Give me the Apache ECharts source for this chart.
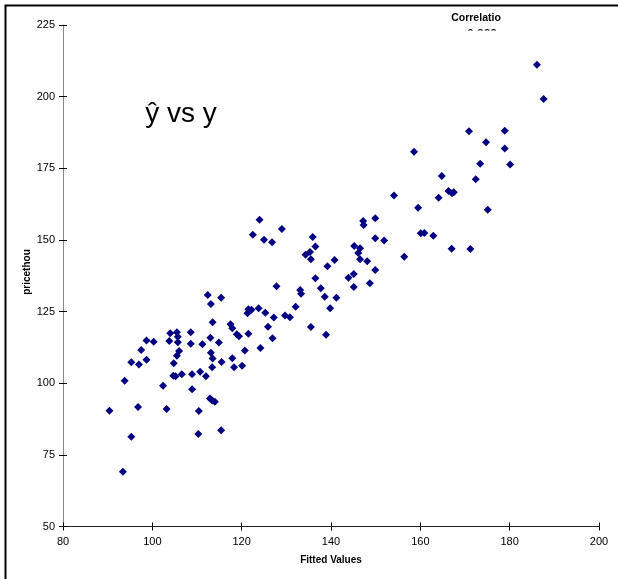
<!DOCTYPE html>
<html>
<head>
<meta charset="utf-8">
<script src="https://cdn.jsdelivr.net/npm/echarts@6/dist/echarts.min.js"></script>
<style>
  html, body { margin: 0; padding: 0; background: #fff; }
  #chart { width: 618px; height: 579px; }
</style>
</head>
<body>
<div id="chart"></div>
<script>
// Fitted values (x) against observed price in thousands (y)
const fittedValues = [
  112.4, 115.4, 113.1, 113.5, 117.5, 117.9, 118.9, 104.0, 105.5, 105.7,
  108.6, 103.8, 105.7, 108.6, 111.2, 113.0, 114.9, 98.7, 100.3, 97.5,
  106.0, 105.5, 113.1, 113.5, 117.9, 115.5, 118.3, 113.4, 95.3, 97.0,
  98.7, 104.8, 104.7, 105.2, 106.6, 108.9, 110.7, 112.0, 93.8, 102.4,
  108.9, 112.9, 113.4, 114.0, 90.4, 96.8, 103.2, 110.4, 95.3, 110.3,
  115.4, 93.4, 124.0, 122.5, 125.0, 126.8, 129.0, 135.9, 136.5, 134.3,
  135.3, 135.5, 139.2, 140.8, 136.5, 137.7, 138.6, 141.2, 139.8, 135.5,
  138.9, 127.8, 133.1, 133.3, 132.1, 129.7, 130.8, 127.2, 125.3, 123.8,
  122.2, 121.5, 121.3, 125.9, 126.9, 124.2, 121.5, 120.7, 120.1, 119.4,
  147.2, 147.3, 149.9, 149.9, 151.9, 145.2, 146.5, 146.1, 146.5, 148.1,
  149.9, 143.9, 145.1, 145.1, 148.7, 186.1, 187.6, 170.9, 178.9, 174.7,
  178.9, 158.6, 173.4, 180.1, 164.8, 172.4, 154.1, 159.5, 164.1, 166.3,
  167.1, 167.5, 175.1, 160.1, 160.9, 162.9, 156.4, 167.0, 171.2
];
const priceThou = [
  130.8, 129.8, 127.6, 121.3, 120.6, 119.2, 117.1, 117.4, 117.8, 116.2,
  117.8, 114.7, 114.3, 113.8, 113.6, 115.9, 114.2, 114.9, 114.5, 111.6,
  111.2, 109.6, 110.6, 108.6, 108.7, 107.4, 105.6, 105.6, 107.3, 106.5,
  108.2, 107.0, 102.6, 102.4, 103.1, 103.1, 104.0, 102.4, 100.9, 99.1,
  97.9, 94.7, 94.0, 93.5, 90.4, 91.7, 91.0, 90.3, 81.3, 82.3,
  83.6, 69.1, 157.0, 151.8, 150.1, 149.2, 153.8, 151.0, 147.7, 144.8,
  145.8, 143.3, 140.8, 143.0, 136.6, 133.1, 130.2, 129.8, 126.2, 119.6,
  116.9, 133.8, 132.5, 131.2, 126.7, 123.6, 123.0, 122.9, 124.6, 126.2,
  125.6, 125.8, 124.4, 119.7, 115.7, 112.3, 117.3, 111.4, 106.1, 116.4,
  156.6, 155.2, 157.6, 150.6, 149.8, 147.9, 147.1, 145.4, 143.3, 142.6,
  139.5, 136.8, 138.1, 133.6, 134.9, 211.1, 199.2, 187.9, 188.1, 184.1,
  181.9, 180.8, 176.6, 176.3, 172.3, 171.2, 165.5, 161.2, 164.7, 167.1,
  166.3, 166.6, 160.5, 152.3, 152.4, 151.5, 144.1, 146.9, 146.8
];
const xTicks = { min: 80, max: 200, step: 20 };
const yTicks = { min: 50, max: 225, step: 25 };

const points = fittedValues.map((x, i) => [x, priceThou[i]]);

const FONT = '"Liberation Sans", Arial, sans-serif';
const chart = echarts.init(document.getElementById('chart'), null, { renderer: 'canvas' });

const tickLabel = { fontFamily: FONT, fontSize: 11, color: '#000' };

const baseX = {
  type: 'value', min: xTicks.min, max: xTicks.max, interval: xTicks.step,
  splitLine: { show: false }
};
const baseY = {
  type: 'value', min: yTicks.min, max: yTicks.max, interval: yTicks.step,
  splitLine: { show: false }
};

chart.setOption({
  animation: false,
  backgroundColor: '#fff',
  grid: { left: 63, right: 19, top: 25, bottom: 52.5, containLabel: false },
  xAxis: [
    Object.assign({}, baseX, {
      axisLine: { show: true, lineStyle: { color: '#222', width: 1 } },
      axisTick: { show: true, inside: false, length: 4, lineStyle: { color: '#000' } },
      axisLabel: Object.assign({ margin: 10 }, tickLabel)
    }),
    Object.assign({}, baseX, {
      position: 'bottom',
      axisLine: { show: false },
      axisTick: { show: true, inside: true, length: 4, lineStyle: { color: '#000' } },
      axisLabel: { show: false }
    })
  ],
  yAxis: [
    Object.assign({}, baseY, {
      axisLine: { show: true, lineStyle: { color: '#888', width: 1 } },
      axisTick: { show: true, inside: false, length: 4, lineStyle: { color: '#000' } },
      axisLabel: Object.assign({ margin: 8 }, tickLabel)
    }),
    Object.assign({}, baseY, {
      position: 'left',
      axisLine: { show: false },
      axisTick: { show: true, inside: true, length: 4, lineStyle: { color: '#000' } },
      axisLabel: { show: false }
    })
  ],
  series: [{
    type: 'scatter',
    xAxisIndex: 0,
    yAxisIndex: 0,
    data: points,
    symbol: 'diamond',
    symbolSize: 8,
    itemStyle: { color: '#000080', opacity: 1 },
    z: 5
  }],
  graphic: [
    // chart frame
    { type: 'rect', shape: { x: 5.5, y: 5.5, width: 800, height: 800 },
      style: { fill: null, stroke: '#000', lineWidth: 2 }, silent: true, z: 0 },
    // title
    { type: 'text', x: 181, y: 128, z: 10,
      style: { text: 'ŷ vs y', font: '28px ' + FONT, fill: '#000',
               textAlign: 'center', textVerticalAlign: 'bottom' } },
    // correlation note, cut off by the plot area
    { type: 'text', x: 476, y: 24, z: 10,
      style: { text: 'Correlatio', font: 'bold 10.5px ' + FONT, fill: '#000',
               textAlign: 'center', textVerticalAlign: 'bottom' } },
    { type: 'text', x: 482, y: 28.5, z: 10,
      style: { text: '0.888', font: 'bold 12px ' + FONT, fill: '#000',
               textAlign: 'center', textVerticalAlign: 'top' } },
    { type: 'rect', shape: { x: 440, y: 30.5, width: 80, height: 20 }, z: 11,
      style: { fill: '#fff' }, silent: true },
    // axis titles
    { type: 'text', x: 27, y: 272, rotation: Math.PI / 2, z: 10,
      style: { text: 'pricethou', font: 'bold 10px ' + FONT, fill: '#000',
               textAlign: 'center', textVerticalAlign: 'middle' } },
    { type: 'text', x: 331, y: 560, z: 10,
      style: { text: 'Fitted Values', font: 'bold 10px ' + FONT, fill: '#000',
               textAlign: 'center', textVerticalAlign: 'middle' } }
  ]
});
</script>
</body>
</html>
